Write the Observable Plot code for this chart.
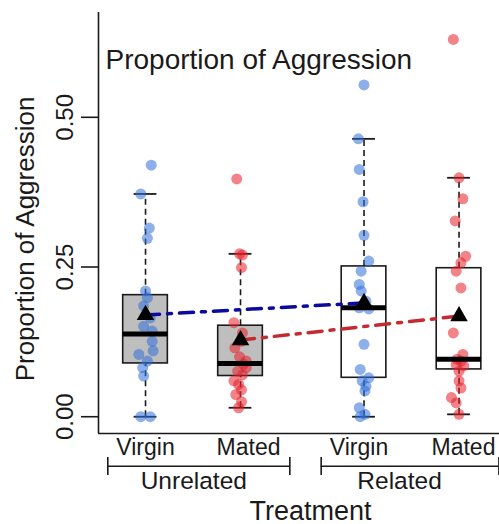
<!DOCTYPE html>
<html><head><meta charset="utf-8">
<script src="https://cdn.jsdelivr.net/npm/d3@7"></script>
<script src="https://cdn.jsdelivr.net/npm/@observablehq/plot@0.6"></script>
<style>body{margin:0;background:#fff} svg{display:block;font-family:"Liberation Sans",Arial,sans-serif}</style>
</head><body><div id="chart"></div>
<script>
// ---- data ----
const treatments = ["Virgin", "Mated", "Virgin", "Mated"];
const relatedness = ["Unrelated", "Unrelated", "Related", "Related"];
const groupLabels = ["Unrelated", "Related"];
const yTicks = [0, 0.25, 0.5];

const virginUnrelated = [0.42,0.372,0.315,0.298,0.21,0.199,0.185,0.165,0.151,0.143,0.126,0.11,0.104,0.093,0.082,0.068,0,0];
const matedUnrelated = [0.397,0.272,0.27,0.249,0.157,0.14,0.126,0.115,0.1,0.093,0.088,0.082,0.076,0.07,0.06,0.054,0.045,0.037,0.025,0.015];
const virginRelated = [0.554,0.464,0.413,0.359,0.303,0.26,0.243,0.221,0.21,0.193,0.182,0.18,0.121,0.079,0.065,0.06,0.051,0.043,0.015,0.004,0];
const matedRelated = [0.63,0.399,0.364,0.327,0.268,0.257,0.243,0.215,0.14,0.104,0.096,0.093,0.087,0.085,0.076,0.06,0.048,0.032,0.023,0.004];

// horizontal jitter of each dot (in group-slot units), as seen in the picture
const jitterVU = [0.06,-0.05,0.04,0.02,0,0.02,-0.02,0.05,-0.02,0.07,0.07,0.08,-0.07,0.02,-0.03,-0.02,-0.05,0.05];
const jitterMU = [-0.04,-0.01,0.02,0.01,-0.07,0.02,0.01,-0.06,-0.01,0.06,0.03,0.06,-0.03,0.02,-0.07,-0.02,0.01,-0.05,0.01,-0.02];
const jitterVR = [0,-0.06,-0.05,-0.01,0,0.05,-0.03,-0.05,-0.03,0.02,-0.05,0.05,0,-0.04,0.05,-0.02,0.02,0.01,-0.05,0.01,-0.04];
const jitterMR = [-0.06,0,0.04,-0.04,0.07,0.02,-0.03,0.02,-0.06,0.04,-0.02,0.02,-0.03,0.05,0,0,0.02,-0.08,-0.03,0];

const q1 = [0.089, 0.068, 0.065, 0.079];
const median = [0.138, 0.089, 0.182, 0.096];
const q3 = [0.203, 0.152, 0.251, 0.248];
const whiskerLow = [0, 0.015, 0, 0.004];
const whiskerHigh = [0.372, 0.272, 0.464, 0.399];
const means = [0.170, 0.128, 0.190, 0.168];

// ---- layout ----
const W = 499, H = 524;
const mL = 98, mR = 0, mT = 12, mB = 91;
const slot = [1, 2, 3.3, 4.3];
const labelShift = [0, 0.084, -0.053, 0.047];
const xDomain = [0.505, 4.726];
const yDomain = [-0.028, 0.675];
const xAt = px => xDomain[0] + (px - mL) / (W - mR - mL) * (xDomain[1] - xDomain[0]);
const yAt = px => yDomain[0] + ((H - mB) - px) / ((H - mB) - mT) * (yDomain[1] - yDomain[0]);
const halfBox = 0.235, halfCap = 0.12;
const bracketSpan = [[0.603, 2.519, 1.508], [2.849, 4.72, 3.674]];

const pointColor = {Virgin: "#2f6fd9", Mated: "#e61e28"};
const lineColor = {Virgin: "#0a0a9e", Mated: "#c42b30"};
const boxFill = {Unrelated: "#bebebe", Related: "#ffffff"};

const values = [virginUnrelated, matedUnrelated, virginRelated, matedRelated];
const jitters = [jitterVU, jitterMU, jitterVR, jitterMR];

const boxes = treatments.map((t, i) => ({
  t, rel: relatedness[i], x: slot[i], lx: slot[i] + labelShift[i],
  q1: q1[i], med: median[i], q3: q3[i], lo: whiskerLow[i], hi: whiskerHigh[i], mean: means[i]
}));
const points = values.flatMap((vals, i) => vals.map((v, j) => ({t: treatments[i], x: slot[i] + jitters[i][j], y: v})));
const brackets = groupLabels.map((g, i) => ({g, x1: bracketSpan[i][0], x2: bracketSpan[i][1], xc: bracketSpan[i][2]}));
const bracketEnds = brackets.flatMap(b => [b.x1, b.x2]);

const ink = "#1a1a1a";
const plot = Plot.plot({
  width: W, height: H,
  marginLeft: mL, marginRight: mR, marginTop: mT, marginBottom: mB,
  x: {type: "linear", domain: xDomain, axis: null},
  y: {type: "linear", domain: yDomain, axis: null},
  style: {fontFamily: "'Liberation Sans', Arial, sans-serif", color: ink, background: "#fff"},
  marks: [
    // boxes
    Plot.rect(boxes, {x1: d => d.x - halfBox, x2: d => d.x + halfBox, y1: "q1", y2: "q3",
      fill: d => boxFill[d.rel], stroke: ink, strokeWidth: 1.6}),
    Plot.ruleX(boxes, {x: "x", y1: "q3", y2: "hi", stroke: ink, strokeWidth: 1.6, strokeDasharray: "6,4"}),
    Plot.ruleX(boxes, {x: "x", y1: "lo", y2: "q1", stroke: ink, strokeWidth: 1.6, strokeDasharray: "6,4"}),
    Plot.ruleY(boxes, {y: "hi", x1: d => d.x - halfCap, x2: d => d.x + halfCap, stroke: ink, strokeWidth: 1.8}),
    Plot.ruleY(boxes, {y: "lo", x1: d => d.x - halfCap, x2: d => d.x + halfCap, stroke: ink, strokeWidth: 1.8}),
    // points
    Plot.dot(points, {x: "x", y: "y", r: 5.5, fill: d => pointColor[d.t], fillOpacity: 0.55, stroke: "none"}),
    // median
    Plot.ruleY(boxes, {y: "med", x1: d => d.x - halfBox, x2: d => d.x + halfBox, stroke: "#000", strokeWidth: 5}),
    // mean lines
    Plot.line(boxes, {x: "x", y: "mean", z: "t", stroke: d => lineColor[d.t], strokeWidth: 3.5, strokeDasharray: "14,8,4,8"}),
    Plot.dot(boxes, {x: "x", y: "mean", symbol: "triangle", r: 6.5, fill: "#000", stroke: "none"}),
    // axes
    Plot.ruleX([xDomain[0]], {stroke: ink, strokeWidth: 1.6}),
    Plot.ruleY([yDomain[0]], {stroke: ink, strokeWidth: 1.6}),
    Plot.ruleY(yTicks, {y: d => d, x1: xAt(81), x2: xDomain[0], stroke: ink, strokeWidth: 1.6}),
    Plot.text(yTicks, {y: d => d, text: d => d3.format(".2f")(d), frameAnchor: "left", textAnchor: "middle", dx: -33, rotate: -90, fontSize: 24, fill: ink}),
    Plot.text(["Proportion of Aggression"], {frameAnchor: "left", textAnchor: "middle", dx: -73, dy: 16, rotate: -90, fontSize: 26, fill: ink}),
    Plot.text(["Proportion of Aggression"], {frameAnchor: "top-left", dx: 7, dy: 56, textAnchor: "start", lineAnchor: "bottom", fontSize: 28, fill: ink}),
    Plot.text(boxes, {x: "lx", text: "t", frameAnchor: "bottom", dy: 21, lineAnchor: "bottom", fontSize: 23, fill: ink}),
    Plot.ruleY(brackets, {y: yAt(465.7), x1: "x1", x2: "x2", stroke: ink, strokeWidth: 1.6}),
    Plot.ruleX(bracketEnds, {x: d => d, y1: yAt(457), y2: yAt(475), stroke: ink, strokeWidth: 1.6}),
    Plot.text(brackets, {x: "xc", text: "g", frameAnchor: "bottom", dy: 55.5, lineAnchor: "bottom", fontSize: 24.5, fill: ink}),
    Plot.text(["Treatment"], {frameAnchor: "bottom", dx: 11.5, dy: 86, lineAnchor: "bottom", fontSize: 27, fill: ink})
  ]
});
document.getElementById("chart").appendChild(plot);
</script>
</body></html>
